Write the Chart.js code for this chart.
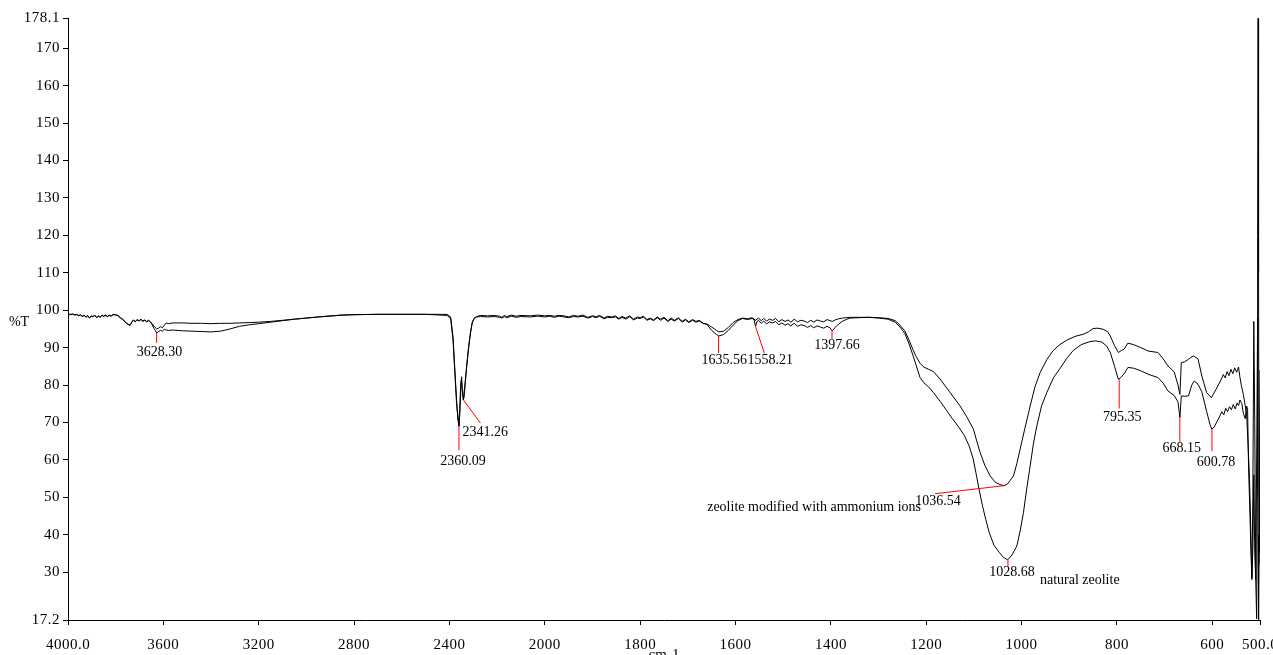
<!DOCTYPE html>
<html>
<head>
<meta charset="utf-8">
<title>FTIR spectra</title>
<script src="https://cdn.jsdelivr.net/npm/chart.js@4.4.0/dist/chart.umd.min.js"></script>
<style>
  html, body { margin: 0; padding: 0; background: #fff; }
  #wrap { width: 1273px; height: 655px; }
</style>
</head>
<body>
<div id="wrap"><canvas id="ftir" width="1273" height="655"></canvas></div>
<script>
// [wavenumber cm-1, %T]
const natural = [
  [4000,99.0],[3990,98.9],[3980,99.0],[3972,98.8],[3964,98.9],[3956,98.6],[3948,98.8],[3940,98.4],[3932,98.7],[3925,98.2],
  [3918,98.6],[3910,98.0],[3902,98.5],[3895,98.3],[3888,98.7],[3880,98.1],[3872,98.5],[3865,98.2],[3857,98.7],[3850,98.4],
  [3842,98.8],[3835,98.3],[3828,98.7],[3820,98.5],[3810,98.9],[3800,98.8],[3790,98.6],[3780,98.0],[3770,97.6],[3762,97.0],
  [3755,96.6],[3748,96.3],[3740,96.0],[3733,96.8],[3726,97.4],[3718,97.0],[3710,97.5],[3702,97.2],[3694,97.6],[3686,97.1],
  [3678,97.4],[3670,97.0],[3662,97.3],[3655,96.9],[3648,96.2],[3640,95.2],[3633,94.5],[3628,93.9],[3620,94.3],[3612,94.6],
  [3604,94.4],[3596,94.9],[3588,94.7],[3578,94.6],[3560,94.7],[3520,94.5],[3480,94.4],[3440,94.3],[3400,94.2],[3360,94.4],
  [3320,95.0],[3280,95.7],[3240,96.1],[3200,96.4],[3150,96.8],[3100,97.2],[3050,97.6],[3000,97.9],[2950,98.2],[2900,98.4],
  [2850,98.7],[2800,98.8],[2700,98.9],[2600,98.9],[2500,98.9],[2410,98.9],[2395,98.2],[2385,93.0],[2378,85.0],[2370,76.0],
  [2364,70.5],[2360,69.0],[2356,72.5],[2352,79.5],[2349,82.2],[2346,79.0],[2342,76.0],[2338,77.3],[2334,80.0],[2328,85.0],
  [2320,90.0],[2312,94.0],[2304,96.8],[2296,97.9],[2285,98.3],[2270,98.6],[2240,98.5],[2210,98.6],[2190,98.4],[2180,98.1],
  [2170,98.6],[2160,98.3],[2140,98.7],[2120,98.4],[2100,98.6],[2060,98.5],[2030,98.7],[2000,98.5],[1990,98.6],[1980,98.4],
  [1970,98.6],[1960,98.5],[1950,98.2],[1940,98.6],[1930,98.4],[1920,98.7],[1910,98.1],[1900,98.5],[1892,98.3],[1885,98.6],
  [1876,97.9],[1868,98.4],[1860,98.2],[1852,98.5],[1845,97.8],[1838,98.3],[1830,97.9],[1822,98.5],[1814,97.6],[1806,98.2],
  [1800,98.0],[1793,98.4],[1786,97.5],[1779,97.9],[1772,97.4],[1764,98.2],[1757,97.6],[1750,98.1],[1742,97.2],[1735,97.9],
  [1728,97.3],[1720,98.0],[1712,97.0],[1705,97.6],[1698,96.9],[1690,97.5],[1683,97.0],[1676,97.3],[1668,96.5],[1660,96.2],
  [1650,94.6],[1640,93.5],[1635,93.1],[1625,93.5],[1615,94.6],[1605,96.0],[1595,97.2],[1585,97.8],[1575,97.5],[1565,97.8],
  [1561,97.4],[1558,95.7],[1555,97.0],[1552,97.3],[1546,96.5],[1541,97.1],[1535,96.3],[1529,96.9],[1522,96.6],[1516,97.0],
  [1509,96.1],[1503,96.6],[1496,96.0],[1490,96.4],[1484,95.8],[1477,96.5],[1470,95.7],[1463,96.1],[1456,95.9],[1449,95.4],
  [1442,95.9],[1436,95.3],[1429,95.8],[1422,95.5],[1415,95.2],[1408,95.7],[1402,95.3],[1397,94.5],[1391,95.4],[1384,96.3],
  [1376,97.0],[1368,97.5],[1360,97.9],[1340,98.0],[1320,98.1],[1300,97.9],[1280,97.6],[1265,96.8],[1255,95.5],[1245,93.8],
  [1236,91.0],[1228,88.0],[1221,85.2],[1213,82.0],[1205,80.6],[1195,79.5],[1185,78.0],[1170,75.5],[1159,73.5],[1145,71.0],
  [1131,68.6],[1120,66.5],[1110,63.7],[1102,60.5],[1096,56.7],[1089,52.0],[1082,47.7],[1075,44.0],[1068,40.6],[1058,37.2],
  [1047,35.3],[1038,33.9],[1029,33.3],[1020,34.6],[1010,37.0],[1003,41.0],[996,46.0],[989,52.5],[982,58.4],[975,64.5],
  [968,69.1],[958,74.5],[947,78.0],[933,82.0],[919,84.5],[905,87.2],[892,89.2],[875,90.8],[857,91.6],[845,91.8],
  [832,91.5],[822,90.5],[814,88.7],[805,85.0],[797,81.5],[792,82.0],[785,83.0],[777,84.7],[765,84.5],[750,83.8],
  [735,82.9],[714,82.0],[703,80.5],[693,78.4],[680,77.2],[672,75.5],[668,71.3],[665,77.1],[658,77.0],[650,77.1],
  [643,80.0],[638,81.1],[630,80.2],[622,78.2],[612,73.0],[605,69.5],[601,68.2],[596,68.8],[590,70.3],[585,71.5],
  [580,72.9],[576,72.0],[572,73.8],[568,72.9],[564,74.2],[560,73.4],[556,74.8],[552,73.6],[548,75.2],[545,74.5],
  [542,76.0],[538,75.0],[535,72.5],[531,71.0],[528,74.4],[526,73.5],[524,58.0],[521,45.0],[519,35.0],[517,28.0],
  [515,36.0],[513,56.0],[511,35.0],[509,28.0],[507,60.0],[505,98.0],[504,40.0],[503,17.2],[502,35.0],[501,56.0],
  [500,32.0]
];

const modified = [
  [4000,98.8],[3990,98.8],[3980,98.9],[3972,98.7],[3964,98.8],[3956,98.5],[3948,98.7],[3940,98.3],[3932,98.6],[3925,98.1],
  [3918,98.5],[3910,97.9],[3902,98.4],[3895,98.2],[3888,98.6],[3880,98.0],[3872,98.4],[3865,98.1],[3857,98.6],[3850,98.3],
  [3842,98.7],[3835,98.2],[3828,98.6],[3820,98.4],[3810,98.8],[3800,98.7],[3790,98.5],[3780,97.9],[3770,97.5],[3762,96.9],
  [3755,96.5],[3748,96.2],[3740,95.9],[3733,96.7],[3726,97.3],[3718,96.9],[3710,97.4],[3702,97.1],[3694,97.5],[3686,97.0],
  [3678,97.3],[3670,96.9],[3662,97.2],[3655,96.9],[3648,96.5],[3640,95.8],[3633,95.3],[3628,95.0],[3620,95.2],[3612,95.6],
  [3604,95.3],[3596,96.0],[3588,96.6],[3578,96.4],[3560,96.6],[3520,96.6],[3480,96.5],[3440,96.5],[3400,96.4],[3360,96.5],
  [3320,96.5],[3280,96.6],[3240,96.7],[3200,96.8],[3150,97.0],[3100,97.3],[3050,97.6],[3000,97.9],[2950,98.2],[2900,98.5],
  [2850,98.7],[2800,98.8],[2700,98.9],[2600,98.9],[2500,98.9],[2410,98.6],[2395,97.8],[2385,92.0],[2378,84.0],[2370,75.0],
  [2364,70.8],[2361,70.6],[2357,73.5],[2353,80.0],[2350,81.5],[2347,79.0],[2343,76.6],[2339,77.8],[2335,80.2],[2329,84.0],
  [2321,89.0],[2313,93.3],[2305,96.5],[2297,97.7],[2287,98.2],[2270,98.3],[2240,98.2],[2210,98.3],[2190,98.1],[2180,97.9],
  [2170,98.3],[2160,98.0],[2140,98.4],[2120,98.1],[2100,98.3],[2060,98.2],[2030,98.4],[2000,98.2],[1990,98.4],[1980,98.1],
  [1970,98.4],[1960,98.2],[1950,98.0],[1940,98.3],[1930,98.2],[1920,98.4],[1910,97.9],[1900,98.3],[1892,98.0],[1885,98.4],
  [1876,97.7],[1868,98.1],[1860,98.0],[1852,98.2],[1845,97.6],[1838,98.1],[1830,97.6],[1822,98.3],[1814,97.4],[1806,97.9],
  [1800,97.8],[1793,98.2],[1786,97.3],[1779,97.7],[1772,97.2],[1764,98.0],[1757,97.3],[1750,97.9],[1742,97.0],[1735,97.6],
  [1728,97.1],[1720,97.8],[1712,96.8],[1705,97.4],[1698,96.7],[1690,97.3],[1683,96.8],[1676,97.1],[1668,96.5],[1660,96.3],
  [1650,95.5],[1640,94.6],[1635,94.2],[1625,94.4],[1615,95.4],[1605,96.7],[1595,97.5],[1585,97.9],[1575,97.7],[1565,98.0],
  [1558,97.3],[1552,97.9],[1546,97.2],[1541,97.8],[1535,97.1],[1529,97.6],[1522,97.3],[1516,97.8],[1509,96.9],[1503,97.5],
  [1496,97.0],[1490,97.4],[1484,96.8],[1477,97.6],[1470,96.9],[1463,97.3],[1456,97.1],[1449,96.7],[1442,97.3],[1436,96.8],
  [1429,97.4],[1422,97.1],[1415,96.9],[1408,97.5],[1402,97.2],[1397,97.0],[1391,97.4],[1384,97.7],[1376,97.9],[1368,98.0],
  [1360,98.1],[1340,98.1],[1320,98.1],[1300,98.0],[1280,97.8],[1265,97.2],[1255,96.0],[1245,94.5],[1236,92.0],[1228,89.5],
  [1221,87.6],[1213,85.8],[1205,84.8],[1195,84.2],[1185,83.6],[1171,81.6],[1150,78.0],[1129,74.4],[1115,71.5],[1101,68.2],
  [1094,65.0],[1087,62.0],[1077,58.5],[1066,55.7],[1055,54.0],[1045,53.4],[1037,53.1],[1030,53.5],[1024,54.5],[1017,55.7],
  [1010,59.0],[1003,62.9],[993,68.5],[982,74.4],[972,79.5],[961,83.4],[947,86.8],[934,89.2],[920,90.8],[905,92.0],
  [888,93.0],[870,93.6],[860,94.2],[850,95.1],[840,95.2],[829,94.9],[820,94.3],[814,93.1],[805,90.5],[797,88.7],
  [791,89.2],[785,89.6],[777,91.2],[765,90.8],[750,90.0],[735,89.1],[714,88.7],[703,87.0],[693,85.1],[680,83.5],
  [672,80.0],[668,77.5],[665,86.0],[658,86.2],[650,86.9],[640,87.8],[630,87.0],[622,82.4],[612,78.0],[602,76.6],
  [592,78.9],[581,81.6],[577,82.8],[573,81.9],[569,83.6],[565,82.5],[561,84.2],[557,83.0],[553,84.6],[549,83.4],
  [545,84.8],[542,82.0],[539,79.8],[535,77.5],[531,74.5],[528,72.0],[525,64.0],[522,55.0],[519,40.0],[517,28.5],
  [515,50.0],[513,97.0],[511,70.0],[509,28.0],[507,17.5],[506,50.0],[505,120.0],[504,178.0],[503,110.0],[502,40.0],
  [501,64.0],[500,84.0]
];

// axes
const xTickWn = [4000, 3600, 3200, 2800, 2400, 2000, 1800, 1600, 1400, 1200, 1000, 800, 600, 500];
const xTickLabels = ['4000.0', '3600', '3200', '2800', '2400', '2000', '1800', '1600', '1400', '1200', '1000', '800', '600', '500.0'];
const yTicks = [17.2, 30, 40, 50, 60, 70, 80, 90, 100, 110, 120, 130, 140, 150, 160, 170, 178.1];
const yTickLabels = ['17.2', '30', '40', '50', '60', '70', '80', '90', '100', '110', '120', '130', '140', '150', '160', '170', '178.1'];

// marked peaks
const peakWn = [3628.30, 2360.09, 2341.26, 1635.56, 1558.21, 1397.66, 1036.54, 1028.68, 795.35, 668.15, 600.78];
const peakT = [93.9, 69.0, 76.0, 93.1, 95.7, 94.5, 53.1, 33.3, 81.5, 71.3, 68.2];
const peakLabels = ['3628.30', '2360.09', '2341.26', '1635.56', '1558.21', '1397.66', '1036.54', '1028.68', '795.35', '668.15', '600.78'];

// the spectrometer plots 4000-2000 at half the scale of 2000-500
function toAxis(w) {
    return w >= 2000 ? (4000 - w) / 2 : 1000 + (2000 - w);
}
function toPoints(rows) {
    return rows.map(r => ({ x: toAxis(r[0]), y: r[1] }));
}

const serif = "'Liberation Serif', 'Times New Roman', serif";

// red leader line + label offsets for each peak: [dx, dy, labelDx, labelDy, align]
const peakLayout = [
    [0, 10, 3, 19, 'center'],
    [0, 24, 4, 35, 'center'],
    [17, 23, -1, 32, 'left'],
    [0, 17, -17, 24, 'left'],
    [9, 27, -8, 34, 'left'],
    [0, 8, 5, 15, 'center'],
    [-69, 8, -89, 16, 'left'],
    [0, 7, 4, 13, 'center'],
    [0, 29, 3, 38, 'center'],
    [0, 25, 2, 31, 'center'],
    [0, 22, 4, 33, 'center']
];

const textSpacing = {
    id: 'textSpacing',
    beforeDraw(chart) {
        chart.ctx.letterSpacing = '0.5px';
    }
};

const peakMarks = {
    id: 'peakMarks',
    afterDatasetsDraw(chart) {
        const ctx = chart.ctx;
        const xs = chart.scales.x, ys = chart.scales.y;
        ctx.save();
        ctx.letterSpacing = '0px';
        ctx.strokeStyle = '#ff0000';
        ctx.lineWidth = 1;
        ctx.fillStyle = '#000';
        ctx.font = '14px ' + serif;
        ctx.textBaseline = 'middle';
        peakWn.forEach((w, i) => {
            const x = xs.getPixelForValue(toAxis(w));
            const y = ys.getPixelForValue(peakT[i]);
            const m = peakLayout[i];
            ctx.beginPath();
            ctx.moveTo(x, y);
            ctx.lineTo(x + m[0], y + m[1]);
            ctx.stroke();
            ctx.textAlign = m[4];
            ctx.fillText(peakLabels[i], x + m[2], y + m[3]);
        });

        // sample names next to the main band
        ctx.textAlign = 'left';
        const names = chart.data.datasets;
        let x = xs.getPixelForValue(toAxis(peakWn[7]));
        let y = ys.getPixelForValue(peakT[7]);
        ctx.fillText(names[0].label, x + 32, y + 21);
        x = xs.getPixelForValue(toAxis(peakWn[6]));
        y = ys.getPixelForValue(peakT[6]);
        ctx.fillText(names[1].label, x - 297, y + 22);

        // axis titles
        ctx.textAlign = 'center';
        ctx.fillText('%T', 19, 322);
        ctx.font = '15px ' + serif;
        ctx.textBaseline = 'top';
        ctx.fillText('cm-1', (chart.chartArea.left + chart.chartArea.right) / 2, 648);
        ctx.restore();
    }
};

new Chart(document.getElementById('ftir').getContext('2d'), {
    type: 'line',
    data: {
        datasets: [{
            label: 'natural zeolite',
            data: toPoints(natural),
            borderColor: '#000',
            borderWidth: 1,
            pointRadius: 0,
            tension: 0,
            fill: false
        }, {
            label: 'zeolite modified with ammonium ions',
            data: toPoints(modified),
            borderColor: '#000',
            borderWidth: 1,
            pointRadius: 0,
            tension: 0,
            fill: false
        }]
    },
    options: {
        responsive: false,
        animation: false,
        layout: { padding: { top: 18, right: 13, bottom: 0, left: 0 } },
        plugins: {
            legend: { display: false },
            tooltip: { enabled: false }
        },
        scales: {
            x: {
                type: 'linear',
                min: 0,
                max: 2500,
                afterBuildTicks: s => { s.ticks = xTickWn.map(w => ({ value: toAxis(w) })); },
                afterFit: s => { s.height = 35; s.paddingLeft = 0; s.paddingRight = 0; },
                grid: { drawOnChartArea: false, drawTicks: true, tickLength: 5, color: '#000' },
                border: { display: true, color: '#000', width: 1 },
                ticks: {
                    autoSkip: false,
                    maxRotation: 0,
                    padding: 11,
                    color: '#000',
                    font: { family: serif, size: 15 },
                    callback: (v, i) => xTickLabels[i]
                }
            },
            y: {
                min: 17.2,
                max: 178.1,
                afterBuildTicks: s => { s.ticks = yTicks.map(v => ({ value: v })); },
                afterFit: s => { s.width = 68; },
                grid: { drawOnChartArea: false, drawTicks: true, tickLength: 5, color: '#000' },
                border: { display: true, color: '#000', width: 1 },
                ticks: {
                    autoSkip: false,
                    padding: 3,
                    color: '#000',
                    font: { family: serif, size: 15 },
                    callback: (v, i) => yTickLabels[i]
                }
            }
        }
    },
    plugins: [textSpacing, peakMarks]
});
</script>
</body>
</html>
